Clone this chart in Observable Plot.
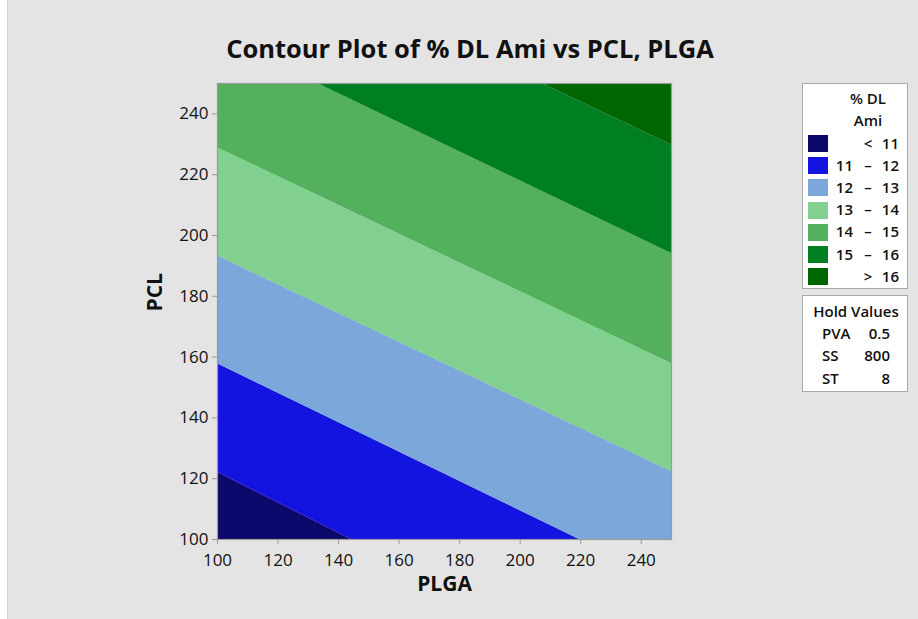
<!DOCTYPE html>
<html>
<head>
<meta charset="utf-8">
<script src="https://cdn.jsdelivr.net/npm/d3@7"></script>
<script src="https://cdn.jsdelivr.net/npm/@observablehq/plot@0.6"></script>
<style>
  html, body { margin: 0; padding: 0; background: #ffffff; }
  #wrap { position: relative; width: 918px; height: 619px; overflow: hidden; font-family: "Open Sans", "Noto Sans", sans-serif; }
  #panel { position: absolute; left: 7px; top: 0; width: 911px; height: 619px; background: #e4e4e4; border-left: 1px solid #d6d6d6; box-sizing: border-box; }
  #title { position: absolute; left: 0; width: 940px; top: 33px; text-align: center; font-size: 25.5px; font-weight: 700; color: #111; line-height: 1.2; }
  #chart { position: absolute; left: 0; top: 0; }
  .box { position: absolute; background: #ffffff; border: 1px solid #a8a8a8; box-sizing: border-box; color: #111; font-size: 15px; font-weight: 600; }
  .t { position: absolute; white-space: nowrap; line-height: 1; }
  .sw { position: absolute; width: 20px; height: 17px; }
</style>
</head>
<body>
<div id="wrap">
  <div id="panel"></div>
  <div id="chart"></div>
  <div id="title">Contour Plot of % DL Ami vs PCL, PLGA</div>
  <div id="legend" class="box" style="left:802px; top:83px; width:106px; height:206px;"></div>
  <div id="hold" class="box" style="left:802px; top:295px; width:106px; height:97px;"></div>
</div>
<script>
// ---- data ----
const levels = [11, 12, 13, 14, 15, 16];
// PCL value of each contour boundary at PLGA = 100 and at PLGA = 250 (extended past frame where needed)
const boundaryAtPLGA100 = [122.1, 157.8, 193.3, 228.9, 265.8, 300.6];
const boundaryAtPLGA250 = [47.1, 85.3, 122.4, 157.9, 194.1, 229.8];
const bandLow = ["", "11", "12", "13", "14", "15", ""];
const bandSep = ["<", "–", "–", "–", "–", "–", ">"];
const bandHigh = ["11", "12", "13", "14", "15", "16", "16"];
const bandColors = ["#0b0a6c", "#1414e0", "#7ba7da", "#82d08f", "#53b05d", "#007f22", "#006700"];
const xTicks = [100, 120, 140, 160, 180, 200, 220, 240];
const yTicks = [100, 120, 140, 160, 180, 200, 220, 240];
const holdNames = ["PVA", "SS", "ST"];
const holdValues = ["0.5", "800", "8"];
const plgaEnds = [100, 250];

// ---- build band polygons (lower/upper boundary at both PLGA ends) ----
const bands = [];
for (let i = 0; i <= levels.length; i++) {
  for (let k = 0; k < 2; k++) {
    const x = plgaEnds[k];
    const ends = k === 0 ? boundaryAtPLGA100 : boundaryAtPLGA250;
    const lo = i === 0 ? 0 : ends[i - 1];
    const hi = i === levels.length ? 400 : ends[i];
    bands.push({band: i, x, lo, hi});
  }
}

const chart = Plot.plot({
  width: 918,
  height: 619,
  marginLeft: 217,
  marginRight: 247,
  marginTop: 83,
  marginBottom: 80,
  style: {background: "transparent", fontFamily: "'Open Sans', 'Noto Sans', sans-serif", fontSize: "17px", color: "#111"},
  x: {domain: [100, 250]},
  y: {domain: [100, 250]},
  marks: [
    Plot.areaY(bands, {
      x: "x", y1: "lo", y2: "hi", z: "band",
      fill: d => bandColors[d.band],
      clip: true
    }),
    Plot.frame({stroke: "#9a9a9a", strokeWidth: 1.2}),
    Plot.axisX({
      ticks: xTicks, tickSize: 5, tickPadding: 9, stroke: "#9a9a9a", fill: "#111",
      fontSize: 17, label: null
    }),
    Plot.axisY({
      ticks: yTicks, tickSize: 5, tickPadding: 4, stroke: "#9a9a9a", fill: "#111",
      fontSize: 17, label: null
    }),
    Plot.text(["PLGA"], {
      frameAnchor: "bottom", dy: 51, fontSize: 21, fontWeight: 700, fill: "#111"
    }),
    Plot.text(["PCL"], {
      frameAnchor: "left", dx: -62, rotate: -90, fontSize: 21, fontWeight: 700, fill: "#111"
    })
  ]
});
document.getElementById("chart").appendChild(chart);

// ---- legend ----
const leg = document.getElementById("legend");
function addText(parent, txt, left, top, align) {
  const el = document.createElement("div");
  el.className = "t";
  el.textContent = txt;
  el.style.top = top + "px";
  if (align === "right") { el.style.right = (104 - left) + "px"; }
  else if (align === "center") { el.style.left = (left - 50) + "px"; el.style.width = "100px"; el.style.textAlign = "center"; }
  else { el.style.left = left + "px"; }
  parent.appendChild(el);
  return el;
}
addText(leg, "% DL", 65, 7, "center");
addText(leg, "Ami", 65, 29, "center");
for (let i = 0; i < bandColors.length; i++) {
  const top = 51 + i * 22.2;
  const sw = document.createElement("div");
  sw.className = "sw";
  sw.style.left = "5px";
  sw.style.top = top + "px";
  sw.style.background = bandColors[i];
  leg.appendChild(sw);
  if (bandLow[i]) addText(leg, bandLow[i], 50, top + 0.5, "right");
  addText(leg, bandSep[i], 65, top + 0.5, "center");
  addText(leg, bandHigh[i], 96, top + 0.5, "right");
}
const hold = document.getElementById("hold");
addText(hold, "Hold Values", 53, 8, "center");
for (let i = 0; i < holdNames.length; i++) {
  const top = 30 + i * 22.3;
  addText(hold, holdNames[i], 19, top, "left");
  addText(hold, holdValues[i], 87, top, "right");
}
</script>
</body>
</html>
